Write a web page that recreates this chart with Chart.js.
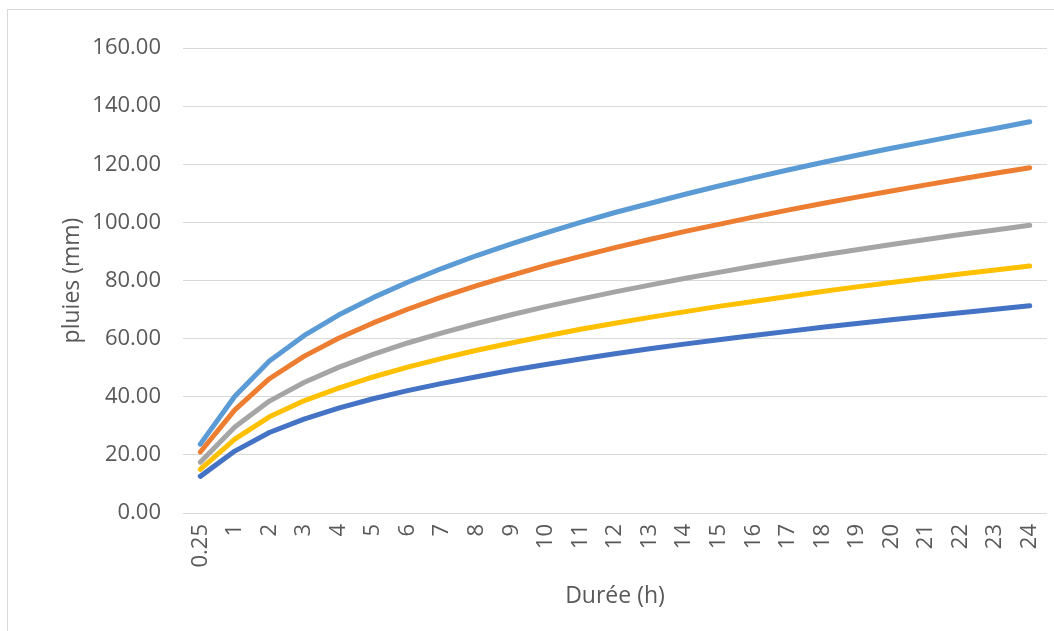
<!DOCTYPE html>
<html lang="fr">
<head>
<meta charset="utf-8">
<title>Pluies - durée</title>
<script src="https://cdn.jsdelivr.net/npm/chart.js@4.4.1/dist/chart.umd.min.js"></script>
<style>
  html, body { margin: 0; padding: 0; background: #fff; overflow: hidden; }
  #cadre {
    position: absolute; left: 7px; top: 9px; width: 1070px; height: 650px;
    border: 1px solid #d9d9d9;
  }
  #graficoPluies { position: absolute; left: 0; top: 0; }
</style>
</head>
<body>
<div id="cadre"></div>
<canvas id="graficoPluies" width="1054" height="631"></canvas>
<script>
// durées (h)
let durees = ["0.25", "1", "2", "3", "4", "5", "6", "7", "8", "9", "10", "11", "12",
              "13", "14", "15", "16", "17", "18", "19", "20", "21", "22", "23", "24"];

// hauteurs de pluie (mm), une courbe par série
let serieBleuClair = [23.7, 40.2, 52.3, 61.0, 68.1, 74.1, 79.4, 84.2, 88.6, 92.6, 96.4, 100.0, 103.4,
                      106.5, 109.6, 112.5, 115.3, 118.0, 120.6, 123.1, 125.5, 127.8, 130.1, 132.3, 134.6];
let serieOrange    = [21.0, 35.5, 46.2, 53.9, 60.1, 65.4, 70.1, 74.4, 78.2, 81.8, 85.2, 88.3, 91.3,
                      94.1, 96.8, 99.3, 101.8, 104.2, 106.5, 108.7, 110.8, 112.9, 114.9, 116.9, 118.8];
let serieGris      = [17.5, 29.6, 38.5, 44.9, 50.1, 54.6, 58.5, 62.0, 65.2, 68.2, 71.0, 73.6, 76.1,
                      78.4, 80.7, 82.8, 84.9, 86.9, 88.8, 90.6, 92.4, 94.1, 95.8, 97.4, 99.0];
let serieJaune     = [15.0, 25.4, 33.1, 38.6, 43.0, 46.8, 50.2, 53.2, 56.0, 58.5, 60.9, 63.2, 65.3,
                      67.3, 69.2, 71.1, 72.8, 74.5, 76.2, 77.8, 79.3, 80.8, 82.2, 83.6, 85.0];
let serieBleu      = [12.6, 21.3, 27.7, 32.3, 36.1, 39.3, 42.1, 44.6, 46.9, 49.1, 51.1, 53.0, 54.8,
                      56.5, 58.1, 59.6, 61.1, 62.5, 63.9, 65.2, 66.5, 67.7, 68.9, 70.1, 71.3];

let ticksY = [0, 20, 40, 60, 80, 100, 120, 140, 160];

const corTexto = '#595959';
const fonte = "'Open Sans', 'Noto Sans', sans-serif";

function serie(valeurs, cor){
    return {
        data: valeurs,
        borderColor: cor,
        backgroundColor: cor,
        borderWidth: 5,
        borderCapStyle: 'round',
        borderJoinStyle: 'round',
        pointRadius: 0,
        tension: 0,
        fill: false
    };
}

const ctx = document.getElementById('graficoPluies');

const data = {
    labels: durees,
    datasets: [
        serie(serieBleu, '#4472C4'),
        serie(serieJaune, '#FFC000'),
        serie(serieGris, '#A5A5A5'),
        serie(serieOrange, '#ED7D31'),
        serie(serieBleuClair, '#5B9BD5')
    ]
};

new Chart(ctx, {
    type: 'line',
    data: data,
    options: {
        responsive: false,
        animation: false,
        layout: { padding: { left: 0, right: 7, top: 48, bottom: 0 } },
        plugins: {
            legend: { display: false },
            tooltip: { enabled: false }
        },
        scales: {
            x: {
                offset: true,
                grid: { display: false, drawTicks: false },
                border: { display: false },
                ticks: {
                    minRotation: 90,
                    maxRotation: 90,
                    autoSkip: false,
                    padding: 11,
                    color: corTexto,
                    font: { family: fonte, size: 22 }
                },
                title: {
                    display: true,
                    text: 'Durée (h)',
                    color: corTexto,
                    font: { family: fonte, size: 23 },
                    padding: { top: 0, bottom: 21 }
                },
                afterFit: function(scale){
                    scale.height = 118;
                    scale.paddingLeft = 0;
                    scale.paddingRight = 0;
                }
            },
            y: {
                min: 0,
                max: 160,
                afterBuildTicks: function(scale){
                    scale.ticks = ticksY.map(v => ({ value: v }));
                },
                grid: { color: '#d9d9d9', lineWidth: 1, drawTicks: false },
                border: { display: false },
                ticks: {
                    padding: 22,
                    color: corTexto,
                    font: { family: fonte, size: 22 },
                    callback: v => Number(v).toFixed(2)
                },
                title: {
                    display: true,
                    text: 'pluies (mm)',
                    color: corTexto,
                    font: { family: fonte, size: 23 },
                    padding: { top: 59, bottom: 0 }
                },
                afterFit: function(scale){ scale.width = 183; }
            }
        }
    }
});
</script>
</body>
</html>
